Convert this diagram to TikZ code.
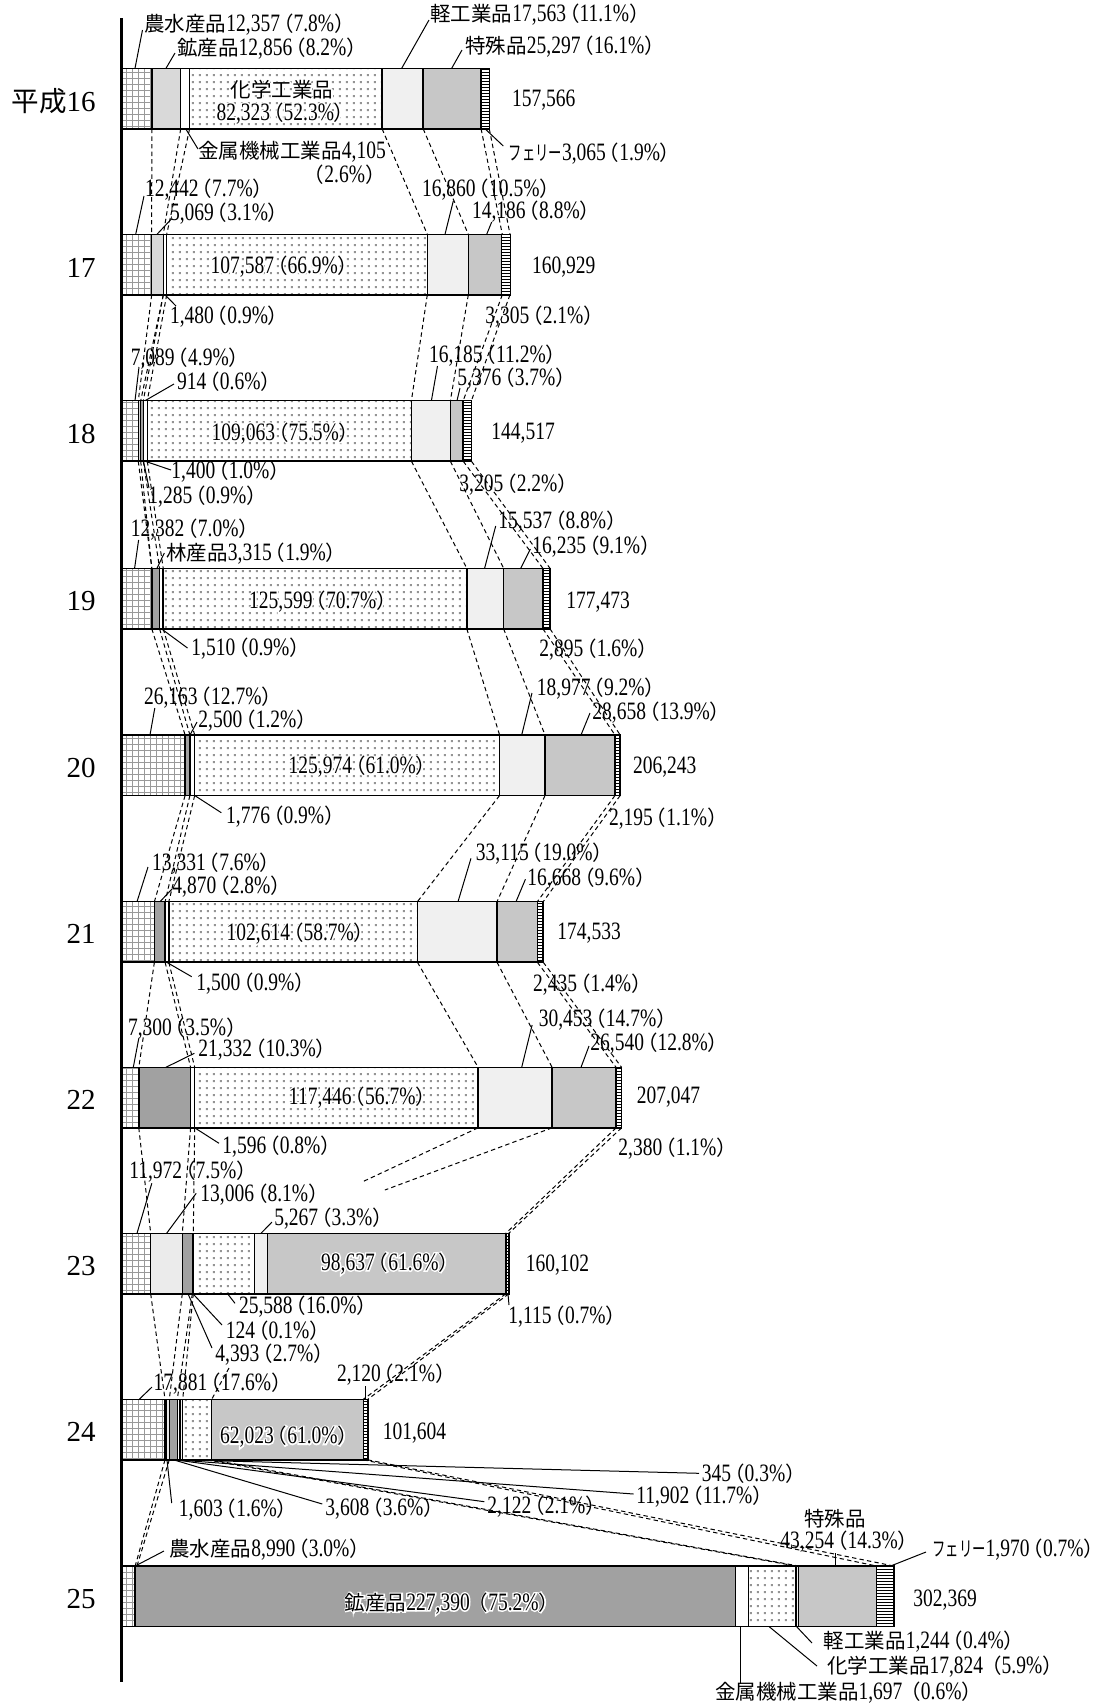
\documentclass[tikz,border=0pt]{standalone}
\usepackage{fontspec}
\setmainfont{Liberation Serif}[FakeStretch=0.78]
\newfontfamily\yrfam{Liberation Serif}
\newfontfamily\jpf{Noto Sans CJK JP}[Scale=0.82]
\newfontfamily\jpy{Noto Sans CJK JP}[Scale=0.95]
\newfontfamily\jpk{Noto Sans CJK JP}[Scale=0.82,FakeStretch=0.65]
\newfontfamily\halomf{Liberation Serif}[FakeStretch=0.78,FakeBold=12]
\newfontfamily\halojf{Noto Sans CJK JP}[Scale=0.82,FakeBold=12]
\usetikzlibrary{patterns,calc}
\newcommand\labfont{\fontsize{12.5pt}{14pt}\selectfont}
\newcommand\yrfont{\yrfam\fontsize{14.5pt}{16pt}\selectfont}
\let\curjp\jpf
\newcommand\J[1]{{\curjp #1}}
\newcommand\K[1]{{\jpk #1}}
\newcommand\pc[2]{#1\kern-3.5pt\J{（}#2\%\J{）}\kern-3.5pt}
\pgfdeclarepatternformonly{fstripes}{\pgfqpoint{-1pt}{-0.5pt}}{\pgfqpoint{101pt}{0.5pt}}{\pgfqpoint{100pt}{1.5pt}}{%
  \pgfsetlinewidth{0.4pt}\pgfpathmoveto{\pgfqpoint{-1pt}{0pt}}\pgfpathlineto{\pgfqpoint{101pt}{0pt}}\pgfusepath{stroke}}
\pgfdeclarepatternformonly{bdots}{\pgfqpoint{0pt}{0pt}}{\pgfqpoint{3.4pt}{3.4pt}}{\pgfqpoint{3.4pt}{3.4pt}}{%
  \pgfpathrectangle{\pgfqpoint{1pt}{1pt}}{\pgfqpoint{1pt}{1pt}}\pgfusepath{fill}}
\tikzset{
  lab/.style={anchor=west,inner sep=0pt,font=\labfont},
  yr/.style={anchor=east,inner sep=0pt,font=\yrfont},
  ldr/.style={line width=0.5pt},
  conn/.style={line width=0.5pt,dash pattern=on 2.2pt off 1.6pt},
  sep/.style={line width=0.75pt},
  gA/.style={pattern=grid,pattern color=black!40},
  gM/.style={fill=black!15},
  gMM/.style={fill=black!8},
  gF/.style={fill=black!37},
  gK/.style={fill=white},
  gC/.style={pattern=bdots,pattern color=black!42},
  gL/.style={fill=black!6},
  gS/.style={fill=black!22},
  gR/.style={pattern=fstripes,pattern color=black},
}
\newcommand\drawbar[3]{%
  \foreach \xa/\xb/\st in {#3} {\path[\st] (\xa,#1) rectangle (\xb,#1+60.5);}
  \foreach \xa/\xb/\st in {#3} {\draw[sep] (\xb,#1) -- (\xb,#1+60.5);}
  \draw[sep] (121.5,#1) rectangle (#2,#1+60.5);}
\newcommand\conns[3]{\foreach \a/\b in {#3} {\draw[conn] (\a,#1) -- (\b,#2);}}
\newcommand\halo[3]{%
  \node[lab,anchor=center] (#1) at (#2) {\rlap{\color{white}\halomf\let\curjp\halojf #3}#3};}
\begin{document}
\begin{tikzpicture}[x=0.5pt,y=-0.5pt]
\path[fill=white] (0,0) rectangle (1104,1704);
\useasboundingbox (0,0) rectangle (1104,1704);
% connectors
\conns{128.8}{234.3}{151.8/151.7,180.7/163.3,189.6/166.7,382.1/427.3,423.2/468.3,481.1/502.3,489.3/510}
\conns{294.8}{400.7}{151.7/138.3,163.3/140.7,163.3/143.3,166.7/147.3,427.3/411.4,468.3/450.4,502.3/463.2,510/471.4}
\conns{461.2}{568.3}{138.3/151.8,140.7/151.8,143.3/159.6,147.3/163.2,411.4/466.8,450.4/503.6,463.2/542.9,471.4/550}
\conns{628.8}{735}{151.8/185.1,159.6/189.9,163.2/194.7,466.8/499.6,503.6/545,542.9/615,550/620.2}
\conns{795.5}{901.7}{185.1/154.4,189.9/165.1,194.7/168.8,499.6/417.4,545/497,615/537.3,620.2/543.2}
\conns{962.2}{1067.3}{154.4/138.8,165.1/190.6,168.8/194.7,417.4/478.1,497/552.1,537.3/616.1,543.2/621.6}
\conns{1127.8}{1233.3}{138.8/150.7,190.6/182.3,194.7/193.3,616.1/505.8,621.6/508.8}
\draw[conn] (478.1,1127.8) -- (362.7,1181.7);
\draw[conn] (552.1,1127.8) -- (384.9,1190);
\conns{1293.8}{1399.3}{150.7/165,182.3/169.3,192.3/177.3,193.3/182.7,505.8/363.3,508.8/367.8}
\draw[conn] (229,1368) -- (211.7,1399.3);
\conns{1459.8}{1566}{165/135.2,169.3/137,363.3/876.6,367.8/893.9,207/795.9,211.7/798.5}
% bars
\drawbar{68.3}{489.3}{121.5/151.8/gA,151.8/180.7/gM,180.7/189.6/gK,189.6/382.1/gC,382.1/423.2/gL,423.2/481.1/gS,481.1/489.3/gR}
\drawbar{234.3}{510.5}{121.5/151.7/gA,151.7/163.3/gM,163.3/166.7/gK,166.7/427.7/gC,427.7/468.3/gL,468.3/501.7/gS,501.7/510.5/gR}
\drawbar{400.7}{471.4}{121.5/138.3/gA,138.3/140.7/gM,140.7/143.3/gF,143.3/147.3/gK,147.3/411.4/gC,411.4/450.4/gL,450.4/463.2/gS,463.2/471.4/gR}
\drawbar{568.3}{550}{121.5/151.8/gA,151.8/159.6/gF,159.6/163.2/gK,163.2/466.8/gC,466.8/503.6/gL,503.6/542.9/gS,542.9/550/gR}
\drawbar{735}{620.2}{121.5/185.1/gA,185.1/189.9/gF,189.9/194.7/gK,194.7/499.6/gC,499.6/545/gL,545/615/gS,615/620.2/gR}
\drawbar{901.7}{543.2}{121.5/154.4/gA,154.4/165.1/gF,165.1/168.8/gK,168.8/417.4/gC,417.4/497/gL,497/537.3/gS,537.3/543.2/gR}
\drawbar{1067.3}{621.6}{121.5/138.8/gA,138.8/190.6/gF,190.6/194.7/gK,194.7/478.1/gC,478.1/552.1/gL,552.1/616.1/gS,616.1/621.6/gR}
\drawbar{1233.3}{508.8}{121.5/150.7/gA,150.7/182.3/gMM,182.3/192.3/gF,192.3/193.3/gK,193.3/254.3/gC,254.3/267.3/gL,267.3/505.8/gS,505.8/508.8/gR}
\drawbar{1399.3}{367.8}{121.5/165/gA,165/166.7/gK,166.7/169.3/gMM,169.3/177.3/gF,177.3/180/gK,180/182.7/gL,182.7/211.7/gC,211.7/363.3/gS,363.3/367.8/gR}
\drawbar{1566}{893.9}{121.5/135.2/gA,135.2/735.7/gF,735.7/748.5/gK,748.5/795.9/gC,795.9/798.5/gL,798.5/876.6/gS,876.6/893.9/gR}
% axis
\draw[line width=1.2pt] (121.5,18) -- (121.5,1682);
% row 16
\node[yr] (y16) at (96,101) {{\jpy 平成}16};
\node[lab] (n16a) at (144,25) {\J{農水産品}\pc{12,357}{7.8}};
\draw[ldr] (135,68.3) -- (142.5,30);
\node[lab] (n16b) at (176.8,48.3) {\J{鉱産品}\pc{12,856}{8.2}};
\draw[ldr] (166,68.3) -- (175,53);
\node[lab] (n16c) at (430,15) {\J{軽工業品}\pc{17,563}{11.1}};
\draw[ldr] (401.7,68.3) -- (429,20);
\node[lab] (n16d) at (465,46.7) {\J{特殊品}\pc{25,297}{16.1}};
\draw[ldr] (451.7,68.3) -- (462,50);
\halo{n16e}{282,90}{\J{化学工業品}}
\halo{n16f}{282,113.3}{\pc{82,323}{52.3}}
\node[lab] (n16g) at (511.7,100) {157,566};
\node[lab] (n16h) at (198,152) {\J{金属機械工業品}4,105};
\node[lab,anchor=east] (n16i) at (386,174.5) {\J{（}2.6\%\J{）}};
\draw[ldr] (185.7,128.8) -- (198,149);
\node[lab] (n16j) at (508.3,153.3) {\K{フェリー}\pc{3,065}{1.9}};
\draw[ldr] (485,128.8) -- (503.3,146);
% row 17
\node[yr] (y17) at (96,268) {17};
\node[lab] (n17a) at (144.6,190) {\pc{12,442}{7.7}};
\draw[ldr] (135.7,234.3) -- (144,196);
\node[lab] (n17b) at (169.6,213.3) {\pc{5,069}{3.1}};
\draw[ldr] (157,234.3) -- (171.4,219);
\node[lab] (n17c) at (421.7,190) {\pc{16,860}{10.5}};
\draw[ldr] (445,234.3) -- (453.3,201);
\node[lab] (n17d) at (471.7,211.7) {\pc{14,186}{8.8}};
\draw[ldr] (486.7,234.3) -- (491.7,222);
\halo{n17e}{281,266.7}{\pc{107,587}{66.9}}
\node[lab] (n17f) at (531.7,266.7) {160,929};
\node[lab] (n17g) at (169.6,316.7) {\pc{1,480}{0.9}};
\draw[ldr] (165,294.8) -- (176,306);
\node[lab] (n17h) at (485,316.7) {\pc{3,305}{2.1}};
% row 18
\node[yr] (y18) at (96,434) {18};
\node[lab] (n18a) at (130.4,358.3) {\pc{7,089}{4.9}};
\draw[ldr] (135,400.7) -- (139,367);
\node[lab] (n18b) at (176.8,381.7) {\pc{914}{0.6}};
\draw[ldr] (145,400.7) -- (174,384);
\node[lab] (n18c) at (428.6,356) {\pc{16,185}{11.2}};
\draw[ldr] (431.4,400.7) -- (437.5,366);
\node[lab] (n18d) at (457,379) {\pc{5,376}{3.7}};
\draw[ldr] (457,400.7) -- (460,388);
\halo{n18e}{282,433.3}{\pc{109,063}{75.5}}
\node[lab] (n18f) at (491,433.3) {144,517};
\node[lab] (n18g) at (171,472) {\pc{1,400}{1.0}};
\draw[ldr] (145,461.2) -- (171,470);
\node[lab] (n18h) at (148,497) {\pc{1,285}{0.9}};
\draw[ldr] (143.5,461.2) -- (149,488);
\node[lab] (n18i) at (459,485) {\pc{3,205}{2.2}};
% row 19
\node[yr] (y19) at (96,601) {19};
\node[lab] (n19a) at (130.4,530) {\pc{12,382}{7.0}};
\draw[ldr] (134.6,568.3) -- (138.6,540);
\node[lab] (n19b) at (166,554) {\J{林産品}\pc{3,315}{1.9}};
\draw[ldr] (157,568.3) -- (164.3,553);
\node[lab] (n19c) at (498,522) {\pc{15,537}{8.8}};
\draw[ldr] (484.6,568.3) -- (495.7,526);
\node[lab] (n19d) at (532,547) {\pc{16,235}{9.1}};
\draw[ldr] (520.7,568.3) -- (530.4,549);
\halo{n19e}{319.6,601.7}{\pc{125,599}{70.7}}
\node[lab] (n19f) at (566,601.7) {177,473};
\node[lab] (n19g) at (191,649) {\pc{1,510}{0.9}};
\draw[ldr] (161.4,628.8) -- (187.5,648);
\node[lab] (n19h) at (539,650) {\pc{2,895}{1.6}};
% row 20
\node[yr] (y20) at (96,768) {20};
\node[lab] (n20a) at (143.7,697.5) {\pc{26,163}{12.7}};
\draw[ldr] (150,735) -- (154.8,708);
\node[lab] (n20b) at (198,721) {\pc{2,500}{1.2}};
\draw[ldr] (190,735) -- (197,722);
\node[lab] (n20c) at (536.5,689) {\pc{18,977}{9.2}};
\draw[ldr] (521.7,735) -- (532,693);
\node[lab] (n20d) at (592,712.3) {\pc{28,658}{13.9}};
\draw[ldr] (581,735) -- (590,713);
\halo{n20e}{359,766.7}{\pc{125,974}{61.0}}
\node[lab] (n20f) at (632.7,766.7) {206,243};
\node[lab] (n20g) at (225.8,816.7) {\pc{1,776}{0.9}};
\draw[ldr] (194.7,795.5) -- (221.3,812.7);
\node[lab] (n20h) at (608.7,818.3) {\pc{2,195}{1.1}};
% row 21
\node[yr] (y21) at (96,934) {21};
\node[lab] (n21a) at (151.8,863.3) {\pc{13,331}{7.6}};
\draw[ldr] (137,901.7) -- (148,867);
\node[lab] (n21b) at (172,887) {\pc{4,870}{2.8}};
\draw[ldr] (160,901.7) -- (172,889);
\node[lab] (n21c) at (475.5,854) {\pc{33,115}{19.0}};
\draw[ldr] (458,901.7) -- (471,858.3);
\node[lab] (n21d) at (527,879) {\pc{16,668}{9.6}};
\draw[ldr] (516,901.7) -- (525.4,879.3);
\halo{n21e}{297,933.3}{\pc{102,614}{58.7}}
\node[lab] (n21f) at (557,933.3) {174,533};
\node[lab] (n21g) at (196,983.3) {\pc{1,500}{0.9}};
\draw[ldr] (166.6,962.2) -- (191.7,976.7);
\node[lab] (n21h) at (532.8,985) {\pc{2,435}{1.4}};
% row 22
\node[yr] (y22) at (96,1100) {22};
\node[lab] (n22a) at (127.7,1028.3) {\pc{7,300}{3.5}};
\draw[ldr] (133.3,1067.3) -- (138.8,1038.3);
\node[lab] (n22b) at (198,1050) {\pc{21,332}{10.3}};
\draw[ldr] (165.9,1067.3) -- (194.3,1053.3);
\node[lab] (n22c) at (538.4,1020) {\pc{30,453}{14.7}};
\draw[ldr] (521.7,1067.3) -- (532.1,1025);
\node[lab] (n22d) at (590,1043.3) {\pc{26,540}{12.8}};
\draw[ldr] (581,1067.3) -- (589,1046);
\halo{n22e}{359,1097.3}{\pc{117,446}{56.7}}
\node[lab] (n22f) at (636.4,1097.3) {207,047};
\node[lab] (n22g) at (222,1146.7) {\pc{1,596}{0.8}};
\draw[ldr] (194.7,1127.8) -- (219,1143.3);
\node[lab] (n22h) at (618,1148.3) {\pc{2,380}{1.1}};
% row 23
\node[yr] (y23) at (96,1266) {23};
\node[lab] (n23a) at (128.9,1171.7) {\pc{11,972}{7.5}};
\draw[ldr] (137,1233.3) -- (151.8,1183.3);
\node[lab] (n23b) at (200,1195) {\pc{13,006}{8.1}};
\draw[ldr] (166.6,1233.3) -- (196.2,1193.3);
\node[lab] (n23c) at (273.9,1219) {\pc{5,267}{3.3}};
\draw[ldr] (261,1233.3) -- (272,1222);
\halo{n23d}{386.7,1263.3}{\pc{98,637}{61.6}}
\node[lab] (n23e) at (525.4,1265) {160,102};
\node[lab] (n23f) at (238.7,1306.7) {\pc{25,588}{16.0}};
\draw[ldr] (227.6,1293.8) -- (235,1303.3);
\node[lab] (n23g) at (225.5,1330.3) {\pc{124}{0.1}};
\draw[ldr] (193,1293.8) -- (222,1325);
\node[lab] (n23h) at (215,1354.7) {\pc{4,393}{2.7}};
\draw[ldr] (188,1293.8) -- (212,1348);
\node[lab] (n23i) at (508,1316.7) {\pc{1,115}{0.7}};
\draw[ldr] (508,1293.8) -- (509,1305);
% row 24
\node[yr] (y24) at (96,1432) {24};
\node[lab] (n24a) at (153.3,1383.3) {\pc{17,881}{17.6}};
\draw[ldr] (139.2,1399.3) -- (152,1387);
\node[lab] (n24b) at (336.7,1375) {\pc{2,120}{2.1}};
\draw[ldr] (365,1399.3) -- (365,1386);
\halo{n24c}{285.7,1436.7}{\pc{62,023}{61.0}}
\node[lab] (n24d) at (382.4,1433.3) {101,604};
\node[lab] (n24e) at (701.5,1473.3) {\pc{345}{0.3}};
\draw[ldr] (178,1459.8) -- (699,1473.3);
\node[lab] (n24f) at (636,1496.7) {\pc{11,902}{11.7}};
\draw[ldr] (176,1459.8) -- (633.5,1494);
\node[lab] (n24g) at (178.5,1510) {\pc{1,603}{1.6}};
\draw[ldr] (167,1459.8) -- (171.7,1503);
\node[lab] (n24h) at (325,1508.3) {\pc{3,608}{3.6}};
\draw[ldr] (173.5,1459.8) -- (322.3,1504);
\node[lab] (n24i) at (487,1506.7) {\pc{2,122}{2.1}};
\draw[ldr] (175,1459.8) -- (484.4,1501.7);
% row 25
\node[yr] (y25) at (96,1599) {25};
\node[lab] (n25a) at (169,1550) {\J{農水産品}\pc{8,990}{3.0}};
\draw[ldr] (135.2,1566) -- (164,1551);
\halo{n25b}{452,1603.3}{\J{鉱産品}227,390\kern-1pt\J{（}75.2\%\J{）}}
\node[lab] (n25c) at (804,1518.3) {\J{特殊品}};
\node[lab] (n25d) at (780,1541.7) {\pc{43,254}{14.3}};
\draw[ldr] (835,1566) -- (835,1553);
\node[lab] (n25e) at (932,1550) {\K{フェリー}\pc{1,970}{0.7}};
\draw[ldr] (890.6,1566) -- (926,1552);
\node[lab] (n25f) at (913,1600) {302,369};
\node[lab] (n25g) at (823.4,1641.7) {\J{軽工業品}\pc{1,244}{0.4}};
\draw[ldr] (796.5,1626.5) -- (812,1643);
\node[lab] (n25h) at (826.6,1666.7) {\J{化学工業品}17,824\kern-1pt\J{（}5.9\%\J{）}};
\draw[ldr] (769,1626.5) -- (817,1666);
\node[lab] (n25i) at (714.6,1693) {\J{金属機械工業品}1,697\kern-1pt\J{（}0.6\%\J{）}};
\draw[ldr] (740,1626.5) -- (740,1684);
\end{tikzpicture}
\end{document}
